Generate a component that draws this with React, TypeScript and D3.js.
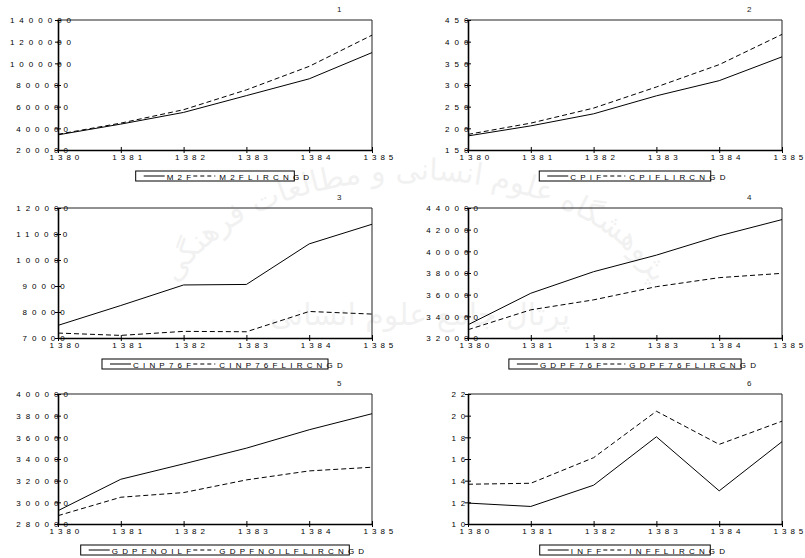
import { useEffect, useRef } from "react";
import * as d3 from "d3";

// yearly values (Iranian calendar)
const years = [1380, 1381, 1382, 1383, 1384, 1385];

const m2f = [340000, 439000, 547000, 702000, 857000, 1099000];
const m2fLircngd = [345000, 448000, 572000, 755000, 972000, 1260000];
const cpif = [182.5, 205.7, 233.5, 275, 310, 365];
const cpifLircngd = [186, 212, 246.7, 295.4, 347, 416.8];
const cinp76f = [74850, 82500, 90400, 90600, 106200, 113750];
const cinp76fLircngd = [71900, 71000, 72550, 72400, 80200, 79200];
const gdpf76f = [332200, 361300, 381200, 396500, 414300, 429300];
const gdpf76fLircngd = [327650, 346000, 355200, 367400, 375700, 379700];
const gdpfnoilf = [292300, 321300, 335500, 350000, 367000, 381800];
const gdpfnoilfLircngd = [287700, 304700, 309000, 320700, 329000, 332400];
const inff = [11.93, 11.62, 13.58, 18.05, 13.06, 17.6];
const inffLircngd = [13.67, 13.76, 16.12, 20.41, 17.35, 19.49];

const panelTitles = ["1", "2", "3", "4", "5", "6"];
const solidNames = ["M2F", "CPIF", "CINP76F", "GDPF76F", "GDPFNOILF", "INFF"];
const dashedNames = ["M2FLIRCNGD", "CPIFLIRCNGD", "CINP76FLIRCNGD", "GDPF76FLIRCNGD", "GDPFNOILFLIRCNGD", "INFFLIRCNGD"];
const solidSeries = [m2f, cpif, cinp76f, gdpf76f, gdpfnoilf, inff];
const dashedSeries = [m2fLircngd, cpifLircngd, cinp76fLircngd, gdpf76fLircngd, gdpfnoilfLircngd, inffLircngd];

const yTicks = [
  [200000, 400000, 600000, 800000, 1000000, 1200000, 1400000],
  [150, 200, 250, 300, 350, 400, 450],
  [70000, 80000, 90000, 100000, 110000, 120000],
  [320000, 340000, 360000, 380000, 400000, 420000, 440000],
  [280000, 300000, 320000, 340000, 360000, 380000, 400000],
  [10, 12, 14, 16, 18, 20, 22],
];

const watermarkTop = "پژوهشگاه علوم انسانی و مطالعات فرهنگی";
const watermarkBottom = "پرتال جامع علوم انسانی";

// layout
const cols = [[58, 372], [468, 782]];
const rows = [[20, 150], [208, 338], [394, 524]];
const font = "Arial, 'Liberation Sans', sans-serif";
const fs = 8;
const ls = 5;
const lsX = 4;
const lsLegend = 4.2;

export default function App() {
  const svgRef = useRef<SVGSVGElement | null>(null);

  useEffect(() => {
    document.body.style.margin = "0";
    const svg = d3.select(svgRef.current);
    svg.selectAll("*").remove();

    // faint background watermark
    const wm = svg.append("g").attr("fill", "#000").attr("opacity", 0.05)
      .attr("font-family", "'DejaVu Sans', sans-serif");
    svg.append("defs").append("path").attr("id", "wmArc")
      .attr("d", "M170,300 A250,150 0 0,1 660,300");
    wm.append("text").attr("font-size", 30)
      .append("textPath").attr("href", "#wmArc").attr("startOffset", "50%")
      .attr("text-anchor", "middle").text(watermarkTop);
    wm.append("text").attr("x", 420).attr("y", 325).attr("font-size", 30)
      .attr("text-anchor", "middle").text(watermarkBottom);

    solidSeries.forEach((solid, i) => {
      const dashed = dashedSeries[i];
      const ticks = yTicks[i];
      const [x0, x1] = cols[i % 2];
      const [y0, y1] = rows[Math.floor(i / 2)];

      const x = d3.scaleLinear().domain(d3.extent(years) as [number, number]).range([x0, x1]);
      const y = d3.scaleLinear().domain(d3.extent(ticks) as [number, number]).range([y1, y0]);

      const g = svg.append("g").attr("font-family", font).attr("font-size", fs);

      // top + right frame
      g.append("path").attr("d", `M${x0},${y0}H${x1}V${y1}`)
        .attr("fill", "none").attr("stroke", "#222").attr("stroke-width", 1);

      // x axis
      const xa = g.append("g").attr("transform", `translate(0,${y1})`)
        .call(d3.axisBottom(x).tickValues(years).tickFormat(d3.format("d")).tickSize(3).tickSizeOuter(0));
      xa.select(".domain").attr("stroke", "#000").attr("stroke-width", 1.3);
      xa.selectAll(".tick line").attr("y1", -3).attr("stroke", "#000");
      xa.selectAll(".tick text").attr("text-anchor", "start").attr("x", -9).attr("y", 10).attr("dy", null)
        .attr("fill", "#000").attr("font-size", fs).attr("font-family", font).attr("letter-spacing", lsX);

      // y axis
      const ya = g.append("g").attr("transform", `translate(${x0},0)`)
        .call(d3.axisLeft(y).tickValues(ticks).tickFormat(d3.format("d")).tickSize(3).tickSizeOuter(0));
      ya.select(".domain").attr("stroke", "#000").attr("stroke-width", 1.6);
      ya.selectAll(".tick line").attr("x1", 3).attr("stroke", "#000");
      ya.selectAll<SVGTextElement, number>(".tick text")
        .attr("text-anchor", "start")
        .attr("x", (d) => -4 - String(d).length * 6.3)
        .attr("dy", "0.34em")
        .attr("fill", "#000").attr("font-size", fs).attr("font-family", font).attr("letter-spacing", ls);

      // series
      const line = d3.line<number>().x((_, j) => x(years[j])).y((d) => y(d));
      g.append("path").datum(solid).attr("d", line)
        .attr("fill", "none").attr("stroke", "#000").attr("stroke-width", 1);
      g.append("path").datum(dashed).attr("d", line)
        .attr("fill", "none").attr("stroke", "#000").attr("stroke-width", 1)
        .attr("stroke-dasharray", "5,3");

      // panel number
      g.append("text").attr("x", x1 - 35).attr("y", y0 - 8).attr("fill", "#222")
        .text(panelTitles[i]);

      // legend
      const lg = g.append("g");
      const ty = y1 + 21;
      const t1 = lg.append("text").attr("y", ty + 8.5).attr("letter-spacing", lsLegend).attr("fill", "#000")
        .text(solidNames[i]);
      const t2 = lg.append("text").attr("y", ty + 8.5).attr("letter-spacing", lsLegend).attr("fill", "#000")
        .text(dashedNames[i]);
      const w1 = (t1.node() as SVGTextElement).getComputedTextLength();
      const w2 = (t2.node() as SVGTextElement).getComputedTextLength();
      const total = 31 + w1 + 25 + w2;
      const boxW = total - 20;
      const L = (x0 + x1) / 2 - boxW / 2;
      lg.append("rect").attr("x", L).attr("y", ty).attr("width", boxW).attr("height", 10)
        .attr("fill", "none").attr("stroke", "#000").attr("stroke-width", 1);
      lg.append("line").attr("x1", L + 8).attr("x2", L + 29).attr("y1", ty + 5).attr("y2", ty + 5)
        .attr("stroke", "#000");
      t1.attr("x", L + 31);
      const e1 = L + 31 + w1;
      lg.append("line").attr("x1", e1 - 2).attr("x2", e1 + 20).attr("y1", ty + 5).attr("y2", ty + 5)
        .attr("stroke", "#000").attr("stroke-dasharray", "4,3");
      t2.attr("x", e1 + 24);
    });
  }, []);

  return <svg ref={svgRef} width={805} height={558} style={{ display: "block", background: "#fff" }} />;
}
